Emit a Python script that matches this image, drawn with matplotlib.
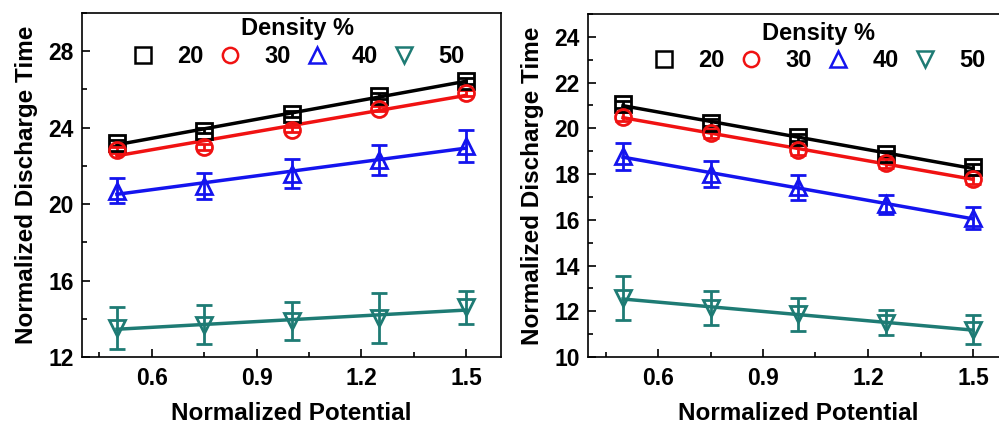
import numpy as np
import matplotlib as mpl
import matplotlib.pyplot as plt
from matplotlib.lines import Line2D
from matplotlib.ticker import MultipleLocator

mpl.rcParams['font.family'] = 'Liberation Sans'
mpl.rcParams['font.weight'] = 'bold'
mpl.rcParams['axes.labelweight'] = 'bold'

potential = [0.5, 0.75, 1.0, 1.25, 1.5]
densities = ['20', '30', '40', '50']
colors = ['#000000', '#f01212', '#1414ee', '#1e7b74']
markers = ['s', 'o', '^', 'v']

# left panel
left_vals = [
    [23.2, 23.85, 24.7, 25.65, 26.45],
    [22.85, 23.0, 23.9, 25.0, 25.8],
    [20.7, 20.96, 21.6, 22.3, 23.05],
    [13.52, 13.7, 13.9, 14.05, 14.6],
]
left_err = [
    [0.15, 0.15, 0.15, 0.15, 0.15],
    [0.15, 0.15, 0.15, 0.15, 0.15],
    [0.65, 0.69, 0.74, 0.8, 0.83],
    [1.1, 1.0, 1.0, 1.3, 0.85],
]

# right panel
right_vals = [
    [21.05, 20.25, 19.6, 18.88, 18.3],
    [20.5, 19.78, 19.05, 18.48, 17.78],
    [18.78, 18.0, 17.42, 16.68, 16.07],
    [12.58, 12.14, 11.86, 11.5, 11.2],
]
right_err = [
    [0.15, 0.15, 0.15, 0.15, 0.15],
    [0.2, 0.2, 0.2, 0.2, 0.2],
    [0.6, 0.58, 0.55, 0.42, 0.48],
    [0.97, 0.76, 0.71, 0.55, 0.63],
]

W, H = 999, 426
fig = plt.figure(figsize=(W / 100, H / 100), dpi=100)
ax1 = fig.add_axes([82 / W, 1 - 357 / H, 419 / W, 344 / H])
ax2 = fig.add_axes([588 / W, 1 - 357 / H, 420 / W, 343 / H])


def draw(ax, vals, errs, ylim, major, minor, leg_x, leg_y):
    x = np.array(potential)
    for v, e, c, m in zip(vals, errs, colors, markers):
        ax.errorbar(x, v, yerr=e, fmt=m, ms=11.5, mfc='none', mec=c, mew=2.0,
                    ecolor=c, elinewidth=2.0, capsize=5.5, capthick=2.0, zorder=3)
        k, b = np.polyfit(x, v, 1)
        ax.plot(x, k * x + b, color=c, lw=2.5, zorder=2)
    ax.set_xlim(0.4, 1.6)
    ax.set_ylim(*ylim)
    ax.xaxis.set_minor_locator(MultipleLocator(0.15))
    ax.yaxis.set_major_locator(MultipleLocator(major))
    ax.yaxis.set_minor_locator(MultipleLocator(minor))
    ax.set_xticks([0.6, 0.9, 1.2, 1.5])
    ax.tick_params(which='both', direction='in', labelsize=16.5, width=1.2)
    ax.tick_params(which='major', length=6)
    ax.tick_params(which='minor', length=3.5)
    ax.tick_params(axis='x', pad=7)
    ax.tick_params(axis='y', pad=6)
    for s in ax.spines.values():
        s.set_linewidth(1.2)
    ax.set_xlabel('Normalized Potential', fontsize=17.5, labelpad=9)
    ax.set_ylabel('Normalized Discharge Time', fontsize=17.5, labelpad=7)
    handles = [Line2D([], [], ls='none', marker=m, ms=11, mfc='none', mec=c, mew=1.8)
               for c, m in zip(colors, markers)]
    leg = ax.legend(handles, densities, title='Density %', ncol=4, frameon=False,
                    loc='upper center', bbox_to_anchor=(leg_x, leg_y), fontsize=17,
                    title_fontsize=17, handletextpad=0.95, columnspacing=0.62,
                    handlelength=1.0, borderaxespad=0, labelspacing=0.2)
    leg.get_title().set_fontweight('bold')


draw(ax1, left_vals, left_err, (12, 30), 4, 2, 0.515, 1.015)
draw(ax2, right_vals, right_err, (10, 25), 2, 1, 0.55, 1.005)

fig.savefig('out.png', dpi=100)
